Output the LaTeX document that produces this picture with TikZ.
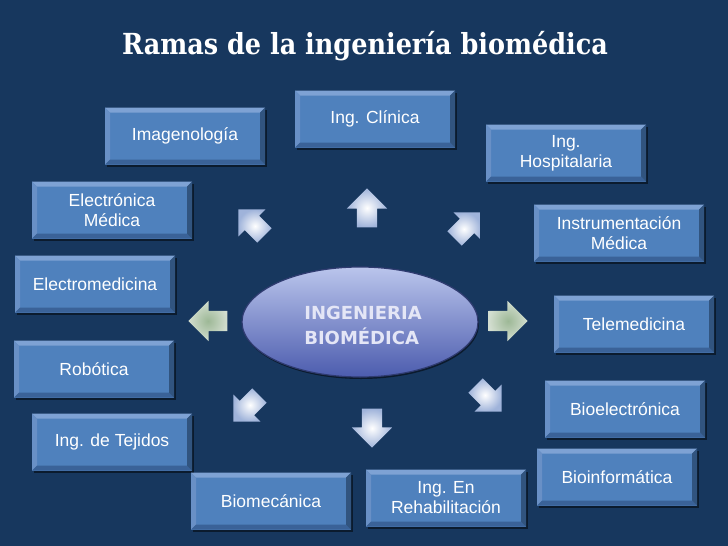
\documentclass[tikz,border=0pt]{standalone}
\usepackage{fontspec}
\setmainfont{Liberation Sans}
\newfontfamily\titlefont[FakeStretch=0.88]{DejaVu Serif}
\newfontfamily\corefont{DejaVu Sans}
\usetikzlibrary{shapes.arrows,shapes.geometric,shadows}

\definecolor{slidebg}{HTML}{17375E}
\definecolor{boxblue}{HTML}{4F81BD}
\definecolor{bevtop}{HTML}{7EA2D4}
\definecolor{bevleft}{HTML}{6990C6}
\definecolor{bevbottom}{HTML}{3A6298}
\definecolor{bevright}{HTML}{31547F}
\definecolor{ellipsetop}{HTML}{BAC5EC}
\definecolor{ellipsemid}{HTML}{8292D4}
\definecolor{ellipsebot}{HTML}{4C5CAE}
\definecolor{ellipseline}{HTML}{2F3B70}
\definecolor{coretext}{HTML}{E4E6F6}
\definecolor{arrowblue}{HTML}{9FB3DA}
\definecolor{arrowgreen}{HTML}{9DB896}
\definecolor{arrowpale}{HTML}{D3DED0}

\tikzset{
  branch/.style={rectangle, minimum width=160pt, minimum height=57pt, inner sep=2pt,
    fill=boxblue, text=white, align=center,
    font=\fontsize{17.5}{20}\selectfont,
    drop shadow={shadow xshift=1.5pt, shadow yshift=-2.5pt, opacity=0.5, fill=black},
    path picture={
      \def\bv{5pt}
      \coordinate (pnw) at (path picture bounding box.north west);
      \coordinate (pne) at (path picture bounding box.north east);
      \coordinate (psw) at (path picture bounding box.south west);
      \coordinate (pse) at (path picture bounding box.south east);
      \fill[bevtop] (pnw) -- (pne) -- ([shift={(-\bv,-\bv)}]pne) -- ([shift={(\bv,-\bv)}]pnw) -- cycle;
      \fill[bevleft] (pnw) -- ([shift={(\bv,-\bv)}]pnw) -- ([shift={(\bv,\bv)}]psw) -- (psw) -- cycle;
      \fill[bevbottom] (psw) -- ([shift={(\bv,\bv)}]psw) -- ([shift={(-\bv,\bv)}]pse) -- (pse) -- cycle;
      \fill[bevright] (pse) -- ([shift={(-\bv,\bv)}]pse) -- ([shift={(-\bv,-\bv)}]pne) -- (pne) -- cycle;
    }},
  pointer/.style={single arrow, minimum height=39pt, single arrow head extend=10pt,
    inner xsep=0pt, inner ysep=10pt, shading=radial, inner color=white, outer color=arrowblue},
  slantpointer/.style={pointer, minimum height=37pt, single arrow head extend=9pt, inner ysep=10pt},
  sidepointer/.style={pointer, inner color=arrowgreen, outer color=arrowpale}
}

\begin{document}
\begin{tikzpicture}[x=1pt, y=-1pt]
    \fill[slidebg] (0,0) rectangle (728,546);
    \useasboundingbox (0,0) rectangle (728,546);

    \node[font=\titlefont\bfseries\fontsize{29}{32}\selectfont, text=white] (title) at (365,46) {Ramas de la ingeniería biomédica};

    % Centre
    \node[ellipse, minimum width=236pt, minimum height=110pt, shading=axis,
        top color=ellipsetop, middle color=ellipsemid, bottom color=ellipsebot,
        draw=ellipseline, line width=1.2pt,
        drop shadow={shadow xshift=1pt, shadow yshift=-2pt, opacity=0.5, fill=black}] (core) at (360,322) {};
    \node[font=\corefont\bfseries\fontsize{18}{25}\selectfont, text=coretext, align=left] (coretitle) at (363,325) {INGENIERIA\\BIOMÉDICA};

    % Arrows
    \node[pointer, rotate=90] (arrN) at (367,213) {};
    \node[slantpointer, rotate=135] (arrNW) at (255,226) {};
    \node[slantpointer, rotate=45] (arrNE) at (464,229) {};
    \node[sidepointer, rotate=180] (arrW) at (213,321) {};
    \node[sidepointer] (arrE) at (503,321) {};
    \node[slantpointer, rotate=225] (arrSW) at (250,405) {};
    \node[pointer, rotate=270] (arrS) at (372,423) {};
    \node[slantpointer, rotate=-45] (arrSE) at (485,395) {};

    % Branches
    \node[branch] (imaging) at (185,136) {Imagenología};
    \node[branch] (clinical) at (375,119) {Ing. Clínica};
    \node[branch] (hospital) at (566,153) {Ing.\\Hospitalaria};
    \node[branch] (electronics) at (112,210) {Electrónica\\Médica};
    \node[branch, minimum width=170pt] (instrument) at (619,233) {Instrumentación\\Médica};
    \node[branch] (electromed) at (95,284) {Electromedicina};
    \node[branch] (telemed) at (634,324) {Telemedicina};
    \node[branch] (robotics) at (94,369) {Robótica};
    \node[branch] (bioelec) at (625,409) {Bioelectrónica};
    \node[branch] (tissue) at (112,442) {Ing. de Tejidos};
    \node[branch] (bioinfo) at (617,477) {Bioinformática};
    \node[branch] (biomech) at (271,501) {Biomecánica};
    \node[branch] (rehab) at (446,498) {Ing. En\\Rehabilitación};

\end{tikzpicture}
\end{document}
